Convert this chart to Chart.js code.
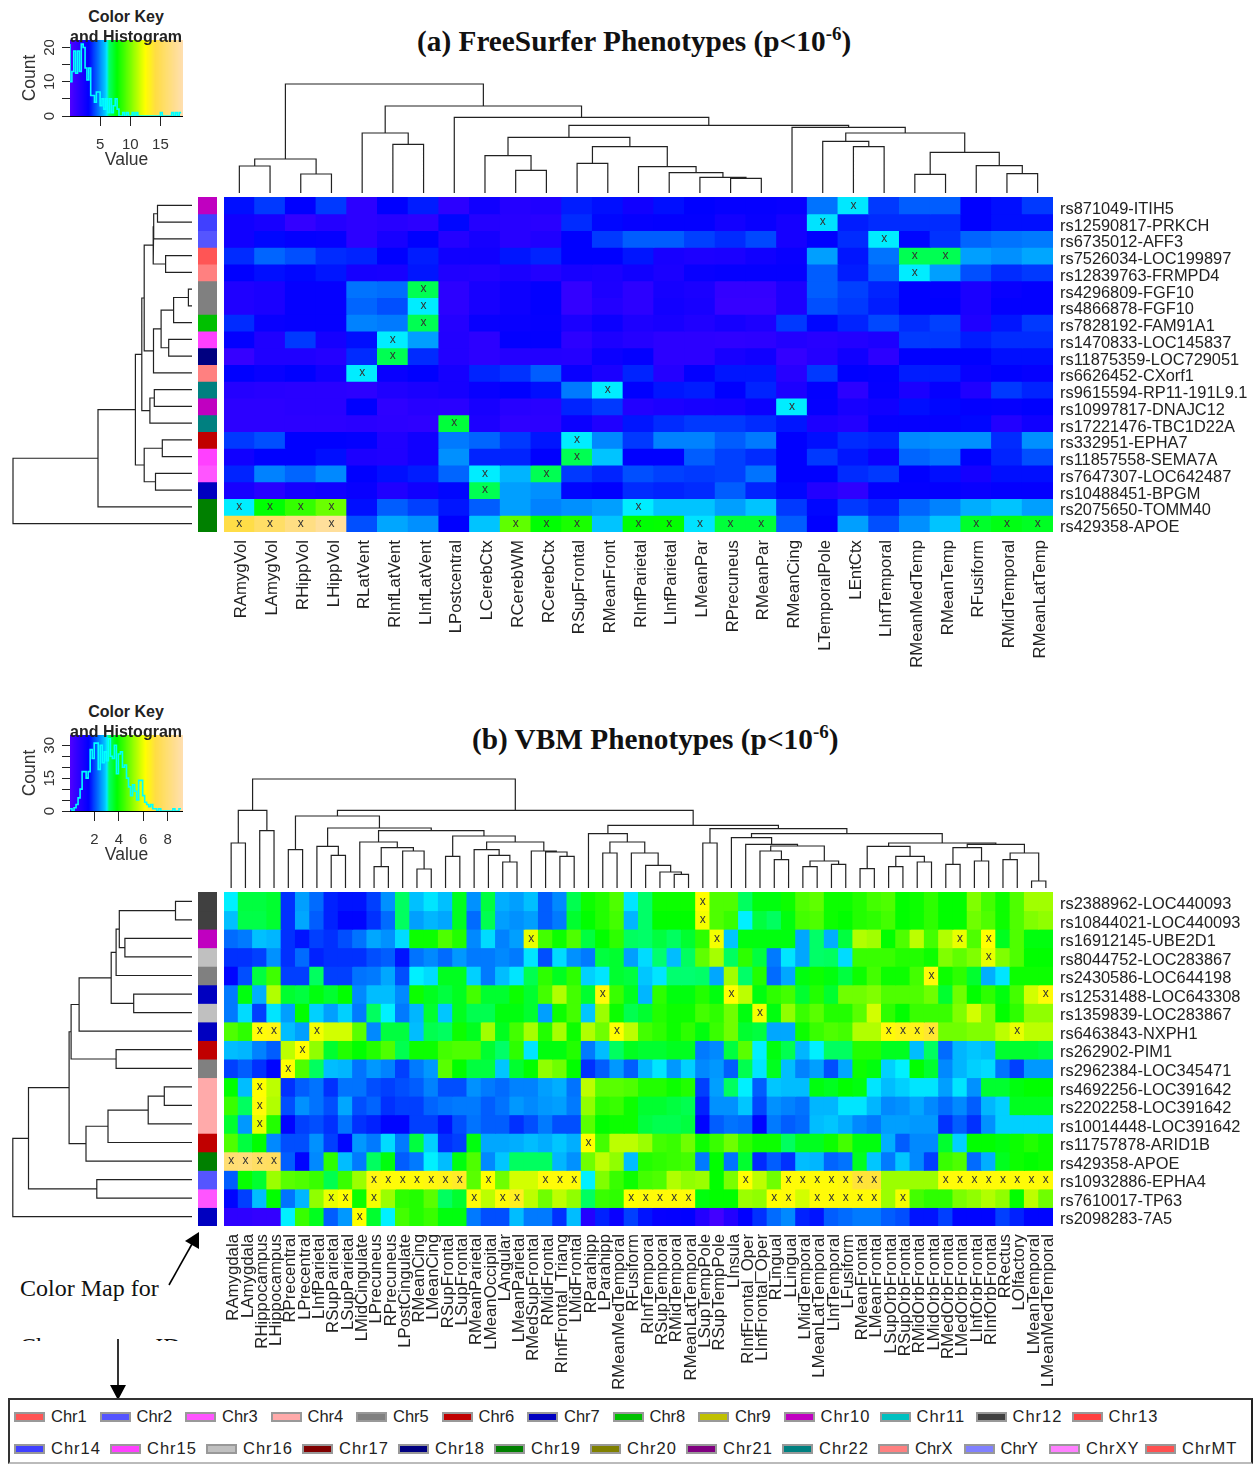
<!DOCTYPE html>
<html>
<head>
<meta charset="utf-8">
<title>FreeSurfer and VBM Phenotypes</title>
<script src="https://cdn.jsdelivr.net/npm/chart.js@4"></script>
<style>
  body { margin: 0; background: #fff; width: 1257px; height: 1465px; position: relative; overflow: hidden; }
  canvas { position: absolute; display: block; }
  .texto { position: absolute; white-space: nowrap; color: #111; }
  .titulo { font: bold 29.3px "Liberation Serif", serif; }
  .titulo sup { font-size: 19px; line-height: 0; }
  .clave { font: bold 16px "Liberation Sans", sans-serif; width: 140px; left: 56px; text-align: center; color: #222; z-index: 2; }
  .nota { font: 24px "Liberation Serif", serif; }
  #caja-leyenda { position: absolute; left: 8px; top: 1398px; width: 1241px; height: 62px; border: 2px solid #333; border-bottom-color: #bbb; border-right-color: #222; background: #fff; }
  .fila-leyenda { position: absolute; left: 4px; display: flex; font: 16.5px "Liberation Sans", sans-serif; color: #222; }
  .item-leyenda { display: flex; align-items: center; box-sizing: border-box; }
  .muestra { width: 27px; height: 6px; border: 2px solid #999; margin-right: 6px; }
</style>
</head>
<body>
<div class="texto titulo" style="left:417px;top:25px">(a) FreeSurfer Phenotypes (p&lt;10<sup>-6</sup>)</div>
<div class="texto titulo" style="left:472px;top:723px">(b) VBM Phenotypes (p&lt;10<sup>-6</sup>)</div>
<div class="texto clave" style="top:8px">Color Key</div>
<div class="texto clave" style="top:28px">and Histogram</div>
<div class="texto clave" style="top:703px">Color Key</div>
<div class="texto clave" style="top:723px">and Histogram</div>
<div class="texto nota" style="left:20px;top:1275px">Color Map for</div>
<div class="texto nota" style="left:20px;top:1333px;height:8px;overflow:hidden">Chromosome ID</div>
<svg style="position:absolute;left:0;top:0" width="1257" height="1465">
  <line x1="169" y1="1285" x2="192" y2="1244" stroke="#000" stroke-width="1.6"/>
  <polygon points="199,1232 199,1249 185,1241" fill="#000"/>
  <line x1="118" y1="1339" x2="118" y2="1388" stroke="#000" stroke-width="1.6"/>
  <polygon points="118,1400 110,1385 126,1385" fill="#000"/>
</svg>
<div id="caja-leyenda"></div>

<canvas id="clave-a" style="left:20px;top:40px" width="163" height="131"></canvas>
<canvas id="arbol-col-a" style="left:224px;top:78px" width="829" height="115"></canvas>
<canvas id="arbol-fil-a" style="left:10px;top:197px" width="182" height="335"></canvas>
<canvas id="banda-a" style="left:198px;top:197px" width="19" height="335"></canvas>
<canvas id="mapa-a" style="left:224px;top:197px" width="1033" height="480"></canvas>

<canvas id="clave-b" style="left:20px;top:735px" width="163" height="131"></canvas>
<canvas id="arbol-col-b" style="left:224px;top:773px" width="829" height="115"></canvas>
<canvas id="arbol-fil-b" style="left:10px;top:892px" width="182" height="334"></canvas>
<canvas id="banda-b" style="left:198px;top:892px" width="19" height="334"></canvas>
<canvas id="mapa-b" style="left:224px;top:892px" width="1033" height="500"></canvas>

<script>
const columnasA = ["RAmygVol","LAmygVol","RHippVol","LHippVol","RLatVent","RInfLatVent","LInfLatVent","LPostcentral","LCerebCtx","RCerebWM","RCerebCtx","RSupFrontal","RMeanFront","RInfParietal","LInfParietal","LMeanPar","RPrecuneus","RMeanPar","RMeanCing","LTemporalPole","LEntCtx","LInfTemporal","RMeanMedTemp","RMeanTemp","RFusiform","RMidTemporal","RMeanLatTemp"];
const filasA = ["rs871049-ITIH5","rs12590817-PRKCH","rs6735012-AFF3","rs7526034-LOC199897","rs12839763-FRMPD4","rs4296809-FGF10","rs4866878-FGF10","rs7828192-FAM91A1","rs1470833-LOC145837","rs11875359-LOC729051","rs6626452-CXorf1","rs9615594-RP11-191L9.1","rs10997817-DNAJC12","rs17221476-TBC1D22A","rs332951-EPHA7","rs11857558-SEMA7A","rs7647307-LOC642487","rs10488451-BPGM","rs2075650-TOMM40","rs429358-APOE"];
const cromosomasA = ["Chr10","Chr14","Chr2","Chr1","ChrX","Chr5","Chr5","Chr8","Chr15","Chr18","ChrX","Chr22","Chr10","Chr22","Chr6","Chr15","Chr3","Chr7","Chr19","Chr19"];

const valoresA = [
  [3.4,4,3.2,4,1.5,3.2,3.6,1.5,2.6,1.8,2,3.6,3.4,2.6,3.4,3.2,3,3,2.9,4.8,6.25,4,4.5,4.5,3.2,3.4,4],
  [2.6,2.3,1.2,1.8,1.5,1.7,1.5,3.3,1.8,1.7,1.6,3.8,3.3,3,3.1,3.1,2.5,2.9,2.4,6.2,3.6,3.8,3.8,3.8,3.2,3.4,3.4],
  [2.6,3.3,3.1,3,1.5,2.3,3.2,1.8,2.4,1.7,2,3.2,4,4.5,4.5,4.1,3.8,4.2,2.4,3.2,3.8,6.3,3.3,3.9,4.6,4.8,4.9],
  [3.8,4.6,4.3,3.8,3.7,3.2,3.6,2.6,2.6,3.5,3.7,3.2,3.2,3.5,2.3,2.1,2.2,2.6,2.9,5.4,3.5,4.8,6.9,6.9,5.4,5.2,5.5],
  [3.2,3.4,3.3,3.5,2.4,2.3,3.5,2,1.9,2.2,1.9,2.3,2.2,2.6,2.2,2.9,3,3,3,4.5,3.6,4.5,6.3,5.4,4.3,3.8,4],
  [2,2.2,3,3,4.8,4.7,6.9,1.5,2.3,2.7,3.1,1.2,2.1,1.5,2.4,2.2,1.2,1.2,2.1,4.5,4.1,3.7,3.2,3.1,2.2,2.9,3.1],
  [2,2.2,3,3,4.6,4.3,6.3,1.5,2.3,2.7,3.1,1.2,1.9,1.5,2.5,2.3,1.1,1.1,2.1,4.3,4,3.6,3.2,3.2,2.2,3.1,3.1],
  [3.8,2.9,3,3,5,4.9,6.9,1.8,2.9,2.9,3,2.2,2.8,2.1,2.3,2,2.4,2.1,4,3.3,3.7,4.2,3.8,4.1,2,3.5,4],
  [3.1,2,4,2.4,3.4,6.3,5.4,1.9,1.5,3.1,3.1,1.5,2.1,1.8,1.5,1.5,1.4,1.5,1.9,1.7,1.9,2.1,4,4,3.6,3.8,3.8],
  [1.1,2,2,1.8,3.8,6.9,3.8,1.9,1.5,1.8,1.9,1.8,2.8,3.1,1.5,1.5,2.3,2.6,1.2,1.8,2.6,1.5,3.2,3.2,3.2,3.4,3.4],
  [3.2,2.9,3.2,2.6,6.3,2.9,3.2,2.4,3.7,3.9,4.5,2.9,2.2,3.7,1.8,3.1,3.5,3.5,1.7,4,3.2,3.1,3.6,3.6,2.9,3.2,3],
  [1.8,1.7,1.6,1.6,1.5,2,2.2,2.4,2.9,3.2,3.4,4.9,6.3,3.2,3.5,3.6,3.2,3.7,2.1,3.1,1.5,3,2.2,3,2,4,3.7],
  [1.5,1.5,1.6,1.6,3.2,1.4,1.7,1.6,2.3,1.7,1.6,3.7,4,1.9,2.1,2.3,2.4,2.8,6.3,3,2.3,2.6,3.4,3.3,3.1,3,3.2],
  [1.5,1.5,1.5,1.5,1.6,1.5,1.4,7.2,2.1,1.4,1.5,2.8,2,3.5,3.8,4,4,3.8,3.5,2.1,1.9,3,3,3,3.3,1.9,2.6],
  [4,4.3,3.2,3.2,3.1,2,2.6,4.9,4.6,4,3.5,6.3,5.1,4,5,5,4.5,4.9,3.2,3.4,3.8,3.7,5.1,5.2,5.2,3.8,5.2],
  [2.6,3.2,3.2,3.4,2.1,2,2.6,5.2,3.7,3.7,3.2,6.9,5.9,3.2,3.2,4.5,4.1,3.8,3.2,4,3.5,2.8,4.6,4.8,3.2,3.7,4.3],
  [3.7,5,4.6,5.1,3.2,3.4,3.6,4.6,6.3,5.7,6.9,4,3.7,4.3,4.1,4,4.1,4.8,3.2,3.2,3.8,4,3.2,3.4,2.4,3.4,3.4],
  [2.3,1.7,2.4,2.6,2.9,2,2.6,3.3,6.9,5.4,5.2,3.3,3.2,3.8,3.7,3.8,4.5,3.7,3.3,1.9,1.4,3.1,3.1,3.1,2.9,3.1,3.1],
  [6.3,7.9,8.9,9.9,3.4,4.5,4.1,3.5,4.5,5.4,5,5.2,5.4,6.3,5.9,5.9,5.4,5.9,4,3.3,4,3.7,4.6,5,5.6,5.9,5.4],
  [14.5,15.8,17,18,4.3,5.5,5.2,3.2,5.9,9.7,7.9,8.4,5.9,7.9,8,6.2,7.2,7.2,4.5,3.2,5.4,4.3,5.2,5.9,7.4,7.7,7.5]
];

const columnasB = ["RAmygdala","LAmygdala","RHippocampus","LHippocampus","RPrecentral","LPrecentral","LInfParietal","RSupParietal","LSupParietal","LMidCingulate","LPrecuneus","RPrecuneus","LPostCingulate","RMeanCing","LMeanCing","RSupFrontal","LSupFrontal","RMeanParietal","LMeanOccipital","LAngular","LMeanParietal","RMedSupFrontal","RMidFrontal","RInfFrontal_Triang","LMidFrontal","RParahipp","LParahipp","RMeanMedTemporal","RFusiform","RInfTemporal","RSupTemporal","RMidTemporal","RMeanLatTemporal","LSupTempPole","RSupTempPole","LInsula","RInfFrontal_Oper","LInfFrontal_Oper","RLingual","LLingual","LMidTemporal","LMeanLatTemporal","LInfTemporal","LFusiform","RMeanFrontal","LMeanFrontal","LSupOrbFrontal","RSupOrbFrontal","RMidOrbFrontal","LMidOrbFrontal","RMedOrbFrontal","LMedOrbFrontal","LInfOrbFrontal","RInfOrbFrontal","RRectus","LOlfactory","LMeanTemporal","LMeanMedTemporal"];
const filasB = ["rs2388962-LOC440093","rs10844021-LOC440093","rs16912145-UBE2D1","rs8044752-LOC283867","rs2430586-LOC644198","rs12531488-LOC643308","rs1359839-LOC283867","rs6463843-NXPH1","rs262902-PIM1","rs2962384-LOC345471","rs4692256-LOC391642","rs2202258-LOC391642","rs10014448-LOC391642","rs11757878-ARID1B","rs429358-APOE","rs10932886-EPHA4","rs7610017-TP63","rs2098283-7A5"];
const cromosomasB = ["Chr12","Chr12","Chr10","Chr16","Chr5","Chr7","Chr16","Chr7","Chr6","Chr5","Chr4","Chr4","Chr4","Chr6","Chr19","Chr2","Chr3","Chr7"];

const valoresB = [
  [3.1,3.5,3.5,3.6,1.9,2.65,2.3,1.8,1.7,1.7,2,2.55,3.3,2.87,3.05,2.87,3.7,2.55,3.5,2.75,2.65,2.87,2.2,2.5,3.4,4,4.2,4.6,3.05,3.25,4,4,4,6.2,4.6,4.6,3.3,3.8,3.8,4,4.6,4.75,4,4,4.2,4.5,4.6,3.9,4,4.3,3.9,3.9,5.05,4.5,4,4.6,5.35,5.35],
  [2.87,3.45,3.45,3.6,1.9,2.7,2.2,1.8,1.6,1.6,1.9,2.3,3.3,2.65,2.8,2.7,3.7,2.3,3.4,2.65,2.55,2.65,2.2,2.4,3.6,3.9,4.2,4.5,2.8,3.25,3.9,3.9,3.9,6.1,4.6,4.4,3.1,3.5,3.3,3.8,4.5,4.6,4,3.9,4.2,4.3,4.5,3.9,4,4.3,3.9,3.9,4.9,4.6,4,4.6,5.05,5.2],
  [2.3,2.4,2.87,2.8,1.9,1.7,2,1.9,2.1,2.35,2.7,2.55,3,4,4,4.6,4.2,2.5,3,2.45,2.65,6,4.5,4,4.6,3.5,3.9,4.3,3.3,3.25,3.5,3.3,3.6,4.3,6.1,2.9,3.8,3.8,3.8,3.8,2.7,3.25,2.75,3.5,5.5,5.35,3.9,4.6,5.6,4.5,5.5,6,4.6,6.2,3.7,4.6,3.8,3.8],
  [1.9,1.9,2,2.55,1.9,2.3,1.8,1.9,1.9,1.9,2.1,2.2,1.7,2.35,2.5,2.3,2.6,2.4,2.4,2.5,2.4,3.05,2.1,3,2.55,2.4,3.5,3.6,2.65,3,3.2,2.85,3.3,4.75,5.4,3.3,4.3,3.5,2.4,3.05,2.7,3.25,3.3,3,4.4,4.4,4.4,4.2,4.2,4,5.05,4.75,5.05,6,5.05,4.6,3.9,3.9],
  [1.6,2.1,3.5,4.45,2,2,3.3,2,2,2.35,2.4,2.7,2.1,3.1,3,3.7,3.7,2.95,2.4,2.85,3.05,3.4,4.3,3.7,4.3,2.95,3.05,3.6,3.5,2.9,3.05,3.2,3.2,3.25,2.7,5.35,3.25,4.2,2.3,2.7,3.8,4,3.8,3.5,4,4.5,4,4,4.5,6.3,4,4.3,3.6,2.75,3.05,4,4,4],
  [2.4,3.8,2.75,5.5,3.6,3.5,3.8,3.6,3.9,2.5,2.85,2.85,2.5,4,3.7,3.5,3.7,4.5,3.6,3.6,4,3.6,4.5,5.5,4.5,3.6,6.3,4.4,3.7,2.8,4.3,3.8,3.8,4.2,3.8,6.2,5.6,3.8,4.3,4.5,3.6,4.2,3.6,4.9,4.9,5.05,4.6,4.6,4.6,4.9,3.6,4.9,3.9,4.3,3.8,4.5,5.8,6.3],
  [2.4,3,2,3.05,2.65,3.9,2.95,2.65,2.95,2.4,3.3,3.1,2.4,2.8,3.6,2.9,3.7,3.4,3.4,3.8,3.8,3.6,2.65,4,4.5,2.9,5.3,4,3.4,3.6,4.2,4,4,4.5,4.3,4.9,3.8,6.1,3.8,5.2,4.4,4.7,4.2,4.2,4.7,5.8,4.3,3.9,4.4,4.4,4.4,5.05,5.8,5.05,3.9,4.3,5.2,5.2],
  [4.6,4.3,6.3,6.4,2.85,2.65,6.1,5.8,5.8,4.7,2.5,3.5,3.5,2.85,3.4,3.3,4,3.7,5.35,3.7,4.5,5.4,4.2,5.4,4,5.5,4.9,6.2,5.6,4.5,4.3,4,4.3,3.8,4.4,4.9,3.6,3.5,2.7,2.7,4,4.4,4.6,4.5,5.5,5.5,6.3,6.5,6.5,6.8,4.9,4.9,5.05,5.05,5.6,6,5.6,5.6],
  [2.85,2.8,2.45,2.2,5.6,6.2,5.2,3.6,4.2,3.9,4.2,4.6,3.4,4,4,4.5,4.6,4.6,3.6,3.25,4.3,3.05,3.8,3.8,4.2,2.4,2.85,3.3,3.7,3.6,3.6,3.7,3.7,2.4,2.5,3.5,4.7,3.1,3.8,3.4,2.8,3.1,3.3,3.3,4.2,4.2,3.7,3.7,2.85,3.3,2.3,2.8,2.9,2.85,3.6,3.6,3.6,3.5],
  [2,2.2,1.9,1.6,6.2,4.6,3.3,2.85,2.8,2.35,2.6,2.45,2,2.4,2.6,4.7,3.9,3.5,3.5,2.9,3.6,3.9,5.2,4.9,3.9,1.9,2.2,2.6,2.2,2.8,3.05,2.6,2.95,2.5,2.6,2.2,3.4,3.05,3.7,2.85,2.45,2.65,2.1,2.7,4,3.8,2.95,3.1,3.9,3.6,2.5,2.8,2.95,3,2.35,2,2.6,2.6],
  [3.9,2.85,6.2,5.6,1.9,2.2,2.35,1.9,2.35,2.35,2.1,2,2.1,2.2,2.45,2.1,2.1,2.55,2.4,2.3,2.45,2.45,2.65,2.75,2.35,5.6,4.7,4.7,4.6,4.2,4.2,4,4.2,2,2.65,3.3,3.1,2.2,2.9,2.85,2.85,3.8,3.7,3.9,3.8,3.05,2.85,2.95,3.05,3.05,2.65,3.05,2.55,3.6,3.6,3.8,3.9,3.9],
  [4.4,3.3,6.3,5.5,2.1,2.55,2.35,2.1,2.7,2.1,2.25,1.9,2,2,2.25,2.35,2.4,2.4,2.2,2.35,2.6,2.5,2.6,2.65,2.4,5.2,4.3,4.4,4,3.6,3.6,3.5,3.4,1.8,2.55,2.55,2.9,2.05,2.55,2.45,2.35,2.8,2.8,3.05,3.05,2.8,2.5,2.55,2.7,2.5,2.3,2.5,2.2,2.8,2.95,3.7,3.7,3.7],
  [3.6,2.6,6,4.2,1.6,2,2.1,1.9,2.35,1.9,1.8,1.6,1.6,2,2,1.7,2.1,2.35,2.2,2.2,1.9,2.1,2.4,2.1,2.1,4.7,3.9,4,4,3.5,3.4,3.4,3.5,1.6,2.2,2.35,2.3,1.6,2.4,2.2,2.3,2.85,2.9,2.75,2.5,2.4,2.65,2.65,2.6,2.6,1.9,2.2,1.9,2.55,2.95,2.95,2.95,2.95],
  [4.6,3.5,3.9,2.5,2.1,2.1,2.55,2,1.6,2.6,2.4,3,2.4,3.5,2.95,1.9,2,3.8,2.7,2.7,2.75,2.85,2.75,2.9,2.75,6.2,4.5,5.6,5.6,5.3,4.5,4.4,4.9,4,4.4,4.9,4.3,4,4,3.3,3.7,3.7,4,4.5,3.8,3.8,2.75,2.2,2.5,2.5,3.6,2.95,3.9,3.9,3.8,4,4.2,4],
  [8,8.1,7.7,7.6,2.2,1.6,2.5,4.3,2.85,2.4,3.3,3.8,2.2,2.4,3.1,2.85,3.8,4.6,2.5,2.9,3.3,3.3,3.3,2.8,2.55,4.9,5.6,5.2,2.85,4.2,4.3,4.4,4.5,2.4,3.9,2.35,3.6,1.85,2.2,1.9,2.85,2.8,2.25,2.35,3.7,2.9,2.4,2.9,2.5,2,4.4,4.6,2.3,2.75,3.7,4,3.9,4],
  [2.2,3.95,3.6,5.3,4.7,4.6,4.4,3.4,4.4,5.3,6.4,6.3,6.3,6.3,6.4,6.5,6.7,4.7,6.2,4.9,5.8,5.8,6.3,6.3,6.3,3.1,5.05,4.4,4,4.5,4.6,5.5,5.2,5.3,3.9,5,6.2,5.6,4.9,6.3,6.3,6.3,6.3,6.4,6.9,6.9,5.3,5.3,5.3,5.3,6.3,6.3,6.3,6.3,6.3,6.3,6.3,6.3],
  [1.6,2,2.85,3.9,2.35,2.8,5.2,6,6.2,4,6.1,5.3,4.3,4.2,4.7,3.3,3.6,6.3,5.6,6.3,6.6,5.6,4.9,5.6,5.2,3.3,4.4,4.3,6.2,6.3,6.3,6.3,6.3,3.8,3.9,3.9,5.3,5.2,6.2,6.3,5.8,6.3,6.3,6.3,6.3,6.3,5.3,6.1,4.5,4.3,4.3,5,5.2,5.5,5.2,3.9,5.6,4.9],
  [0.7,0.7,0.6,0.6,3.1,4.4,3.7,2.2,2.6,6.2,3.6,3.1,4.5,4.2,4.4,3.8,3.8,2.4,2.1,2.1,2.85,2.4,2.4,1.9,2.85,0.9,1.8,1.4,2,1.7,1.45,1.5,1.55,0.9,0.3,0.9,1.55,1.9,2.3,2.5,1.8,1.7,2.2,2.3,2.4,2.4,2.2,2.1,1.7,1.7,2,1.6,1.6,1.6,2,1.8,1.6,1.6]
];

// 0 es una hoja; cada nodo es [izquierda, derecha, altura]
const arbolColumnasA = [
  [[0,0,27],[0,0,19],34],
  [[0,[0,0,48.7],60],
   [0,
    [[[0,[0,0,22.7],37.3],[[0,0,29.7],[0,[0,[0,[0,0,14.7],15.7],20.3],26.3],46.3],55.7],
     [0,[[0,[0,0,46.3],51.7],[[0,0,18.7],[0,[0,0,19.3],27.3],40.7],60],65.7],
     67.7],
    75.7],
   87],
  109
];
const arbolFilasA = [[[[[[[[0,0,34.5],0,38.3],[0,0,26.4],38.8],[[[[0,0,3.6],0,18.4],[0,0,23.3],30.9],0,38.5],47.8],[[0,0,37.7],0,42.1],50.2],[[0,0,29.7],[0,0,36.5],47.8],56.6],0,94],0,179];

const arbolColumnasB = [
  [[0,0,45],[0,0,57.3],77.7],
  [[[0,0,38.3],[[0,[0,0,32.7],41.7],[[0,[[0,0,21.3],[0,[0,0,19],37],40.3],46],[[0,0,31.7],[[0,[0,[0,0,26],32.7],38.3],[0,[0,[0,0,31.7],36],37],46],52],57.3],60],72],
   [[0,[[0,0,35],[0,[0,[0,[0,0,13.7],16],22.7],35],46],54.3],
    [[0,0,45],
     [[0,[0,[[0,[0,0,28.3],37],[[0,0,21.3],[0,0,23.7],27],42],43.7],50.3],
      [[[0,0,19.3],[[0,0,21.3],[0,0,26],31.7],41.7],[[[0,0,23.7],[0,0,27],40.3],[[0,0,28.3],[0,0,7],35],43.7],45],54.3],59.3],62.7],77.7],
  109
];
const arbolFilasB = [[[[[[[[[0,0,16.5],[0,0,67.1],72.7],0,75.9],[0,0,58.3],80.8],0,112.9],[0,0,75.9],120.9],[[[[0,0,27.7],0,43.8],0,84],0,106],122.9],[0,0,95.2],163.5],0,179.2];

// conteos del histograma de cada clave de color
const histogramaA = [21,10,13,19,12.5,19,13,21,20,14,10.5,14,6,6,4,7,7,3,5,2,5,1,5,1,3,5,2,0,0,1,0,1,0,0,1,0,1,0,0,0,0,0,0,0,0,0,0,0,0,1,0,0,0,0,0,1,0,1,0,1];
const histogramaB = [1.4,1,0,1.5,3,6,10,18,18,15,18,28,24,31,31,19,30,22,27,23,33,25,24,30,17,26,27,20,21,15,11,7,12,9,5,14,14,7,4,3,2,3,1,1,0,1,0,0,0,0,0,0,1,0,0,1];
const ticksClaveA = [5, 10, 15];
const ticksClaveB = [2, 4, 6, 8];

const nombresCromosomas = ["Chr1","Chr2","Chr3","Chr4","Chr5","Chr6","Chr7","Chr8","Chr9","Chr10","Chr11","Chr12","Chr13","Chr14","Chr15","Chr16","Chr17","Chr18","Chr19","Chr20","Chr21","Chr22","ChrX","ChrY","ChrXY","ChrMT"];
const coloresCromosomas = ["#ff5555","#5555ff","#ff55ff","#ffaaaa","#808080","#c00000","#0000c0","#00c000","#c0c000","#c000c0","#00c0c0","#404040","#ff4040","#4040ff","#ff40ff","#c0c0c0","#800000","#000080","#008000","#808000","#800080","#008080","#ff8080","#8080ff","#ff80ff","#ff5050"];

const paradasPaleta = [
  [0, [82, 0, 255]],
  [0.17, [0, 0, 255]],
  [0.31, [0, 192, 255]],
  [0.335, [0, 240, 255]],
  [0.345, [0, 255, 112]],
  [0.42, [0, 255, 0]],
  [0.67, [255, 255, 0]],
  [0.76, [255, 221, 68]],
  [1, [255, 223, 176]],
];

const colorPaleta = (t) => {
  const limite = Math.min(Math.max(t, 0), 1);
  let i = 0;
  while (i < paradasPaleta.length - 2 && limite > paradasPaleta[i + 1][0]) i++;
  const [t0, c0] = paradasPaleta[i];
  const [t1, c1] = paradasPaleta[i + 1];
  const f = (limite - t0) / (t1 - t0);
  const canal = (k) => Math.round(c0[k] + (c1[k] - c0[k]) * f);
  return `rgb(${canal(0)},${canal(1)},${canal(2)})`;
};

const colorCromosoma = (nombre) => coloresCromosomas[nombresCromosomas.indexOf(nombre)];

Chart.defaults.font.family = '"Liberation Sans", sans-serif';
Chart.defaults.animation = false;
Chart.defaults.responsive = false;
Chart.defaults.plugins.legend.display = false;
Chart.defaults.plugins.tooltip.enabled = false;

// el area del grafico tiene que caer justo sobre las celdas
const fijarEje = (escala, medidas) => {
  Object.assign(escala, medidas, { paddingLeft: 0, paddingRight: 0, paddingTop: 0, paddingBottom: 0 });
};

const marcasX = (umbral, valores) => ({
  id: "marcasX",
  afterDatasetsDraw(chart) {
    const { ctx } = chart;
    ctx.save();
    ctx.font = '12px "Liberation Sans", sans-serif';
    ctx.fillStyle = "#333";
    ctx.textAlign = "center";
    ctx.textBaseline = "middle";
    chart.data.datasets.forEach((_, fila) => {
      chart.getDatasetMeta(fila).data.forEach((barra, col) => {
        if (valores[fila][col] < umbral) return;
        const centro = barra.getCenterPoint();
        ctx.fillText("x", centro.x, centro.y);
      });
    });
    ctx.restore();
  },
});

const crearMapa = (id, columnas, filas, valores, maximo, altoEtiquetas, desfaseFilas) => {
  new Chart(document.getElementById(id), {
    type: "bar",
    data: {
      labels: columnas,
      datasets: filas.map((_, fila) => ({
        data: columnas.map(() => [fila, fila + 1]),
        backgroundColor: valores[fila].map((v) => colorPaleta(v / maximo)),
        borderWidth: 0,
        inflateAmount: 0.5,
        barPercentage: 1,
        categoryPercentage: 1,
      })),
    },
    options: {
      layout: { padding: 0 },
      scales: {
        x: {
          stacked: true,
          grid: { display: false, drawTicks: false },
          border: { display: false },
          afterFit: (escala) => fijarEje(escala, { height: altoEtiquetas }),
          ticks: { autoSkip: false, minRotation: 90, maxRotation: 90, padding: 8, labelOffset: 2.5, color: "#222", font: { size: 16.8 } },
        },
        y: { display: false, reverse: true, min: 0, max: filas.length },
        filas: {
          type: "category",
          axis: "y",
          labels: filas,
          position: "right",
          offset: true,
          grid: { display: false, drawTicks: false },
          border: { display: false },
          afterFit: (escala) => fijarEje(escala, { width: 204 }),
          ticks: { autoSkip: false, padding: 7, labelOffset: desfaseFilas, color: "#222", font: { size: 16.4 } },
        },
      },
    },
    plugins: [marcasX(6, valores)],
  });
};

const crearBanda = (id, cromosomas) => {
  new Chart(document.getElementById(id), {
    type: "bar",
    data: {
      labels: ["Chr"],
      datasets: cromosomas.map((nombre, fila) => ({
        data: [[fila, fila + 1]],
        backgroundColor: colorCromosoma(nombre),
        borderWidth: 0,
        inflateAmount: 0.5,
        barPercentage: 1,
        categoryPercentage: 1,
      })),
    },
    options: {
      scales: {
        x: { display: false, stacked: true },
        y: { display: false, reverse: true, min: 0, max: cromosomas.length },
      },
    },
  });
};

const segmentosArbol = (arbol) => {
  const puntos = [];
  let hoja = 0;
  const recorrer = (nodo) => {
    if (!Array.isArray(nodo)) return { pos: hoja++, alto: 0 };
    const izq = recorrer(nodo[0]);
    const der = recorrer(nodo[1]);
    const alto = nodo[2];
    puntos.push(
      { pos: izq.pos, alto: izq.alto },
      { pos: izq.pos, alto },
      { pos: der.pos, alto },
      { pos: der.pos, alto: der.alto },
      { pos: NaN, alto: NaN }
    );
    return { pos: (izq.pos + der.pos) / 2, alto };
  };
  recorrer(arbol);
  return puntos;
};

const crearArbol = (id, arbol, hojas, vertical) => {
  const canvas = document.getElementById(id);
  const puntos = segmentosArbol(arbol);
  const rangoPos = { min: -0.5, max: hojas - 0.5, display: false };
  new Chart(canvas, {
    type: "scatter",
    data: {
      datasets: [{
        data: puntos.map((p) => (vertical ? { x: p.pos, y: p.alto } : { x: p.alto, y: p.pos })),
        showLine: true,
        pointRadius: 0,
        borderColor: "#222",
        borderWidth: 1.2,
        spanGaps: false,
        clip: false,
      }],
    },
    options: {
      scales: vertical
        ? { x: rangoPos, y: { min: 0, max: canvas.height, display: false } }
        : { x: { min: 0, max: canvas.width, reverse: true, display: false }, y: { ...rangoPos, reverse: true } },
    },
  });
};

const crearClave = (id, histograma, maxValor, maxConteo, ticksX, pasoEtiqueta) => {
  const pasos = 96;
  const gradiente = Array.from({ length: pasos }, (_, i) => ((i + 0.5) / pasos) * maxValor);
  const anchoBin = maxValor / histograma.length;
  new Chart(document.getElementById(id), {
    type: "bar",
    data: {
      datasets: [
        {
          type: "line",
          order: 0,
          data: histograma.map((y, i) => ({ x: i * anchoBin, y })),
          stepped: "after",
          borderColor: "#00ffff",
          borderWidth: 1.6,
          pointRadius: 0,
        },
        {
          order: 1,
          data: gradiente.map((x) => ({ x, y: maxConteo })),
          backgroundColor: gradiente.map((x) => colorPaleta(x / maxValor)),
          borderWidth: 0,
          inflateAmount: 0.5,
          barPercentage: 1,
          categoryPercentage: 1,
        },
      ],
    },
    options: {
      scales: {
        x: {
          type: "linear",
          offset: false,
          min: 0,
          max: maxValor,
          grid: { drawOnChartArea: false, color: "#222", tickLength: 10, offset: false },
          border: { color: "#000" },
          afterFit: (escala) => fijarEje(escala, { height: 55 }),
          afterBuildTicks: (escala) => { escala.ticks = ticksX.map((value) => ({ value })); },
          ticks: { autoSkip: false, maxRotation: 0, padding: 10, color: "#333", font: { size: 15 } },
          title: { display: true, text: "Value", color: "#333", font: { size: 17.5 }, padding: 0 },
        },
        y: {
          min: 0,
          max: maxConteo,
          grid: { drawOnChartArea: false, color: "#222", tickLength: 8 },
          border: { color: "#000" },
          afterFit: (escala) => fijarEje(escala, { width: 50 }),
          ticks: {
            autoSkip: false,
            includeBounds: false,
            stepSize: 5,
            minRotation: 90,
            maxRotation: 90,
            crossAlign: "center",
            padding: 4,
            color: "#333",
            font: { size: 15 },
            callback: (v) => (v % pasoEtiqueta === 0 ? v : ""),
          },
          title: { display: true, text: "Count", color: "#333", font: { size: 17.5 }, padding: 0 },
        },
      },
    },
  });
};

const crearLeyenda = () => {
  const caja = document.getElementById("caja-leyenda");
  [nombresCromosomas.slice(0, 13), nombresCromosomas.slice(13)].forEach((grupo, i) => {
    const fila = document.createElement("div");
    fila.className = "fila-leyenda";
    fila.style.top = i === 0 ? "7px" : "39px";
    grupo.forEach((nombre) => {
      const largo = nombre.length > 4;
      const item = document.createElement("div");
      item.className = "item-leyenda";
      item.style.width = largo ? "96px" : "85.5px";
      item.style.letterSpacing = largo ? "1px" : "0";
      item.innerHTML = `<span class="muestra" style="background:${colorCromosoma(nombre)}"></span>${nombre}`;
      fila.appendChild(item);
    });
    caja.appendChild(fila);
  });
};

crearClave("clave-a", histogramaA, 18.75, 22.2, ticksClaveA, 10);
crearArbol("arbol-col-a", arbolColumnasA, columnasA.length, true);
crearArbol("arbol-fil-a", arbolFilasA, filasA.length, false);
crearBanda("banda-a", cromosomasA);
crearMapa("mapa-a", columnasA, filasA, valoresA, 18.9, 145, 4);

crearClave("clave-b", histogramaB, 9.26, 34.7, ticksClaveB, 15);
crearArbol("arbol-col-b", arbolColumnasB, columnasB.length, true);
crearArbol("arbol-fil-b", arbolFilasB, filasB.length, false);
crearBanda("banda-b", cromosomasB);
crearMapa("mapa-b", columnasB, filasB, valoresB, 9.26, 166, 3.2);

crearLeyenda();
</script>
</body>
</html>
